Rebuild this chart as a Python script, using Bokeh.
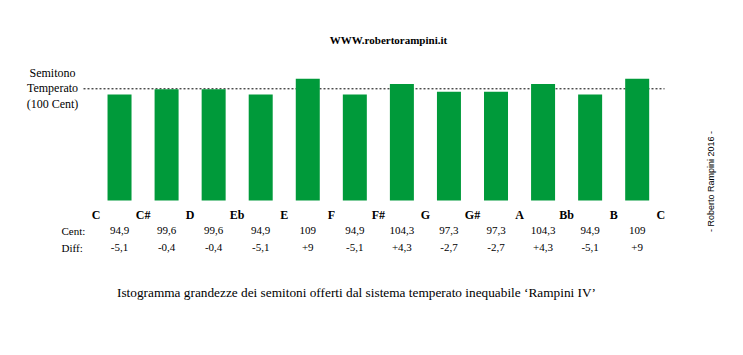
import math
from bokeh.plotting import figure
from bokeh.models import ColumnDataSource, Label
from bokeh.core.properties import value
from bokeh.embed import file_html
from bokeh.resources import INLINE

# ---- data ----
notes = ["C", "C#", "D", "Eb", "E", "F", "F#", "G", "G#", "A", "Bb", "B", "C"]
cents = [94.9, 99.6, 99.6, 94.9, 109, 94.9, 104.3, 97.3, 97.3, 104.3, 94.9, 109]
cent_labels = ["94,9", "99,6", "99,6", "94,9", "109", "94,9", "104,3", "97,3", "97,3", "104,3", "94,9", "109"]
diff_labels = ["-5,1", "-0,4", "-0,4", "-5,1", "+9", "-5,1", "+4,3", "-2,7", "-2,7", "+4,3", "-5,1", "+9"]
reference = 100
title = "WWW.robertorampini.it"
caption = "Istogramma grandezze dei semitoni offerti dal sistema temperato inequabile \u2018Rampini IV\u2019"
ref_lines = ["Semitono", "Temperato", "(100 Cent)"]
credit = "- Roberto Rampini 2016 -"

W, H = 743, 355
X0PX, XSTEP = 95.5, 47.06      # pixel of first note boundary, px per semitone
Y0PX, YSCALE = 200.0, 1.117    # pixel of value 0 (from top), px per cent

def px_x(px):
    return (px - X0PX) / XSTEP

def px_y(py):
    return (Y0PX - py) / YSCALE

p = figure(width=W, height=H, output_backend="svg", toolbar_location=None,
           x_range=(px_x(0), px_x(W)), y_range=(px_y(H), px_y(0)),
           x_axis_location=None, y_axis_location=None, min_border=0,
           outline_line_color=None)
p.xgrid.visible = False
p.ygrid.visible = False
p.background_fill_color = "white"
p.border_fill_color = "white"

SERIF = value("Liberation Serif")
green = "#009a3a"

# reference dashed line (drawn below bars)
p.segment(x0=[px_x(83)], y0=[reference], x1=[px_x(664)], y1=[reference],
          line_color="black", line_width=1, line_dash="2 2")

centers = [i + 0.5 for i in range(len(cents))]
src = ColumnDataSource(dict(x=centers, top=cents, c=cent_labels, d=diff_labels))
p.vbar(x="x", top="top", bottom=0, width=24 / XSTEP, source=src,
       fill_color=green, line_color=None)

# note labels at boundaries
nsrc = ColumnDataSource(dict(x=list(range(len(notes))), t=notes))
p.text(x="x", y=px_y(214), text="t", source=nsrc, text_font=SERIF,
       text_font_size="12px", text_font_style="bold", text_align="center",
       text_baseline="middle", text_color="black")

p.text(x="x", y=px_y(230), text="c", source=src, text_font=SERIF,
       text_font_size="11px", text_align="center", text_baseline="middle",
       text_color="black")
p.text(x="x", y=px_y(247), text="d", source=src, text_font=SERIF,
       text_font_size="11px", text_align="center", text_baseline="middle",
       text_color="black")

def lab(text, x, y, size, style="normal", align="left", angle=0, font="Liberation Serif"):
    p.add_layout(Label(x=x, y=H - y, x_units="screen", y_units="screen", text=text,
                       text_font=font, text_font_size=size, text_font_style=style,
                       text_align=align, text_baseline="middle", angle=angle,
                       text_color="black"))

lab("Cent:", 61, 230, "11px")
lab("Diff:", 61, 247, "11px")
lab(title, 388, 39, "11px", style="bold", align="center")
lab(caption, 356, 292, "13.3px", align="center")
for i, t in enumerate(ref_lines):
    lab(t, 52, 72 + i * 15.5, "12px", align="center")
lab(credit, 710, 181, "9px", align="center", angle=math.pi / 2, font="Liberation Sans")

open("out.html", "w").write(file_html(p, INLINE))
